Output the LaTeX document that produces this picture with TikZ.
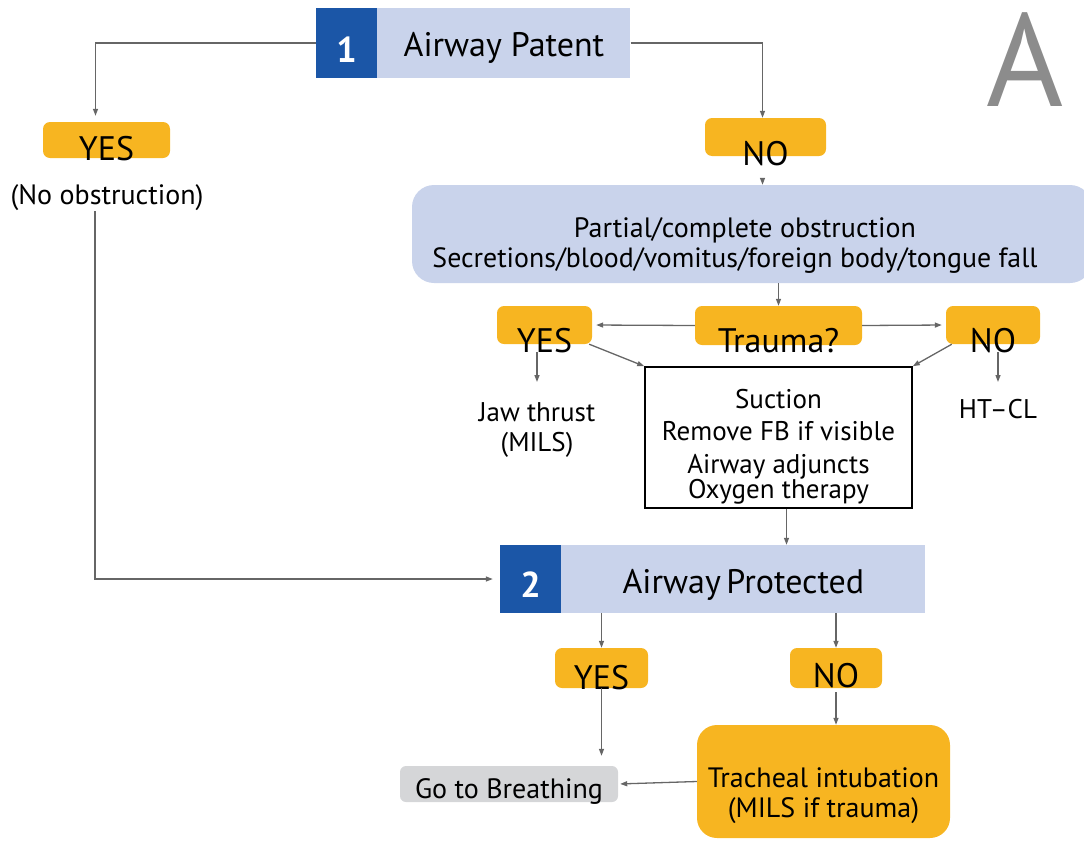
\documentclass[tikz,border=0pt]{standalone}
\usepackage{fontspec}
\setmainfont{PT Sans}
\usetikzlibrary{arrows.meta,calc}
\definecolor{hdblue}{HTML}{1B56A7}
\definecolor{hdlight}{HTML}{C9D3EB}
\definecolor{amber}{HTML}{F7B521}
\definecolor{stone}{HTML}{D5D6D8}
\definecolor{wire}{HTML}{666666}
\definecolor{bigletter}{HTML}{8C8C8C}
% text whose baseline sits a given distance below the node centre
\newcommand\droptext[2]{\smash{\raisebox{-#1}{#2}}}
\tikzset{
  num/.style={fill=hdblue, text=white, inner sep=0pt, font=\fontsize{36}{38}\selectfont\bfseries},
  head/.style={fill=hdlight, inner sep=0pt, font=\fontsize{34}{36}\selectfont},
  pill/.style={fill=amber, rounded corners=7pt, inner sep=0pt, font=\fontsize{34}{36}\selectfont},
  plain/.style={inner sep=0pt, align=center},
  arr/.style={draw=wire, line width=1.3pt, -{Triangle[length=7pt,width=5pt]}},
}
\begin{document}
\begin{tikzpicture}[x=1pt,y=-1pt]
\useasboundingbox (0,0) rectangle (1084,841);

% header 1
\node[num, minimum width=61, minimum height=70] (n1) at (346.5,43) {\droptext{19pt}{1}};
\node[head, minimum width=253, minimum height=70, anchor=west] (p1) at (n1.east) {\droptext{13pt}{Airway Patent}};
\node[plain, text=bigletter, font=\fontsize{132}{132}\selectfont] (bigA) at (1025,60) {A};

% first answer
\node[pill, minimum width=127, minimum height=36] (yes1) at (106.5,140) {\droptext{20pt}{YES}};
\node[plain, font=\fontsize{28}{30}\selectfont] (noobs) at (107,198) {(No obstruction)};
\node[pill, minimum width=121, minimum height=38] (no1) at (765.5,137) {\droptext{28pt}{NO}};

% obstruction
\node[fill=hdlight, rounded corners=22pt, minimum width=680, minimum height=98, inner sep=0pt,
      align=center, font=\fontsize{28}{30}\selectfont] (obs) at (752,234)
  {\droptext{18pt}{Partial/complete obstruction\hspace*{14pt}}\\[-1pt]
   \droptext{19pt}{\resizebox{605pt}{!}{Secretions/blood/vomitus/foreign body/tongue fall}\hspace*{34pt}}};

% trauma decision
\node[pill, minimum width=167, minimum height=39] (trauma) at (778.5,325.5) {\droptext{27pt}{Trauma?}};
\node[pill, minimum width=95, minimum height=38] (yes2) at (544.5,325) {\droptext{27pt}{YES}};
\node[pill, minimum width=94, minimum height=38] (no2) at (993,325) {\droptext{27pt}{NO}};

\node[plain, font=\fontsize{27}{30}\selectfont, anchor=north] (jaw) at (537,402) {Jaw thrust\\(MILS)};
\node[plain, font=\fontsize{27}{29}\selectfont, anchor=north] (htcl) at (998,399) {HT\textendash CL};

\node[draw=black, line width=1.6pt, minimum width=267, minimum height=141, inner sep=0pt,
      align=center, font=\fontsize{27}{29}\selectfont] (act) at (778.5,437.5)
  {\droptext{16pt}{\begin{tabular}{@{}c@{}}Suction\\[3pt]Remove FB if visible\\[4pt]Airway adjuncts\\[-4pt]Oxygen therapy\end{tabular}}};

% header 2
\node[num, minimum width=61, minimum height=68] (n2) at (530.5,579) {\droptext{18pt}{2}};
\node[head, minimum width=364, minimum height=68, anchor=west] (p2) at (n2.east) {\droptext{14pt}{Airway\,Protected}};

% second answer
\node[pill, minimum width=93, minimum height=40] (yes3) at (601.5,668) {\droptext{21pt}{YES}};
\node[pill, minimum width=92, minimum height=40] (no3) at (836,668) {\droptext{19pt}{NO}};

\node[fill=amber, rounded corners=20pt, minimum width=253, minimum height=113, inner sep=0pt,
      align=center, font=\fontsize{28}{30}\selectfont] (trach) at (823.5,781.5)
  {\droptext{21pt}{\begin{tabular}{@{}c@{}}Tracheal intubation\\(MILS if trauma)\end{tabular}}};
\node[fill=stone, rounded corners=6pt, minimum width=218, minimum height=36, inner sep=0pt,
      font=\fontsize{28}{30}\selectfont] (go) at (509,784) {\droptext{14pt}{Go to Breathing}};

% connectors
\draw[arr, shorten >=6pt] (n1.west) -| ([xshift=-11pt]yes1.north);
\draw[arr] (p1.east) -| ([xshift=-3pt]no1.north);
\draw[arr, shorten >=7pt] ([xshift=-12pt]noobs.south) |- (n2.west);
\draw[arr, shorten <=22pt] ([xshift=-3pt]no1.south) -- ([xshift=-3pt]obs.north -| no1.south);
\draw[arr] (obs.south -| trauma.north) -- (trauma.north);
\draw[arr, shorten >=4pt] (trauma.west) -- (yes2.east);
\draw[arr, shorten >=4pt] (trauma.east) -- (no2.west);
\draw[arr, shorten <=8pt, shorten >=20pt] (jaw.north |- yes2.south) -- (jaw.north);
\draw[arr, shorten <=8pt, shorten >=17pt] (htcl.north |- no2.south) -- (htcl.north);
\draw[arr] ([xshift=-3pt]yes2.south east) -- (act.north west);
\draw[arr] ([xshift=6pt]no2.south west) -- (act.north east);
\draw[arr] ([xshift=8pt]act.south) -- ([xshift=8pt]act.south |- p2.north);
\draw[arr] (p2.south -| yes3.north) -- (yes3.north);
\draw[arr] (p2.south -| no3.north) -- (no3.north);
\draw[arr, shorten >=10pt] (yes3.south) -- (yes3.south |- go.north);
\draw[arr, shorten <=4pt] (no3.south) -- (trach.north -| no3.south);
\draw[arr, shorten >=2pt] (trach.west) -- (go.east);
\end{tikzpicture}
\end{document}
